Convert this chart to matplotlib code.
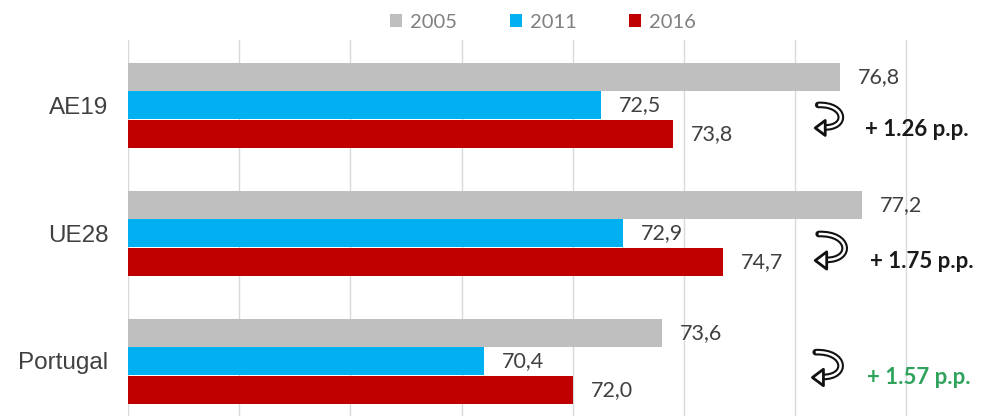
import matplotlib
matplotlib.use("Agg")
import matplotlib.pyplot as plt
from matplotlib.patches import Patch, PathPatch, Polygon
from matplotlib.path import Path
from matplotlib.transforms import Affine2D, ScaledTranslation

categories = ["AE19", "UE28", "Portugal"]
years = ["2005", "2011", "2016"]
v2005 = [76.8, 77.2, 73.6]
v2011 = [72.5, 72.9, 70.4]
v2016 = [73.8, 74.7, 72.0]
changes = ["+ 1.26 p.p.", "+ 1.75 p.p.", "+ 1.57 p.p."]
change_colors = ["#1a1a1a", "#1a1a1a", "#2fa35c"]
colors = ["#bfbfbf", "#00b0f0", "#c00000"]

W, H = 1008, 416
fig = plt.figure(figsize=(W / 100, H / 100), dpi=100)
ax_left, ax_top = 128 / W, 40 / H
ax = fig.add_axes([ax_left, 0, 1 - ax_left, 1 - ax_top])

px_per_unit = 55.6
xmin = 64
ax.set_xlim(xmin, xmin + (W - 128) / px_per_unit)
# group centres at 0,1,2; 128 px per group
ax.set_ylim(2 + 55 / 128, -65 / 128)

bh = 28 / 128
offsets = [-0.219, 0.0, 0.227]
series = [v2005, v2011, v2016]
for s, vals in enumerate(series):
    ys = [i + offsets[s] for i in range(len(categories))]
    widths = [v - xmin for v in vals]
    ax.barh(ys, widths, left=xmin, height=bh, color=colors[s], edgecolor="none", zorder=2)
    for y, v in zip(ys, vals):
        ax.text(v + 18 / px_per_unit, y, f"{v:.1f}".replace(".", ","), va="center", ha="left",
                fontsize=15.5, family="Lato", color="#404040", zorder=3)

ax.set_xticks(range(64, 80, 2))
ax.set_xticklabels([])
ax.tick_params(axis="x", length=0)
ax.grid(axis="x", color="#d9d9d9", lw=1, zorder=0)
ax.set_yticks(range(len(categories)))
ax.set_yticklabels(categories, fontsize=17.5, family="Liberation Sans", color="#404040")
ax.tick_params(axis="y", length=0, pad=14)
for sp in ax.spines.values():
    sp.set_visible(False)

# outlined curved arrow shape (pixel offsets, y up)
shaft = Path([(3, -2), (31, -1), (33, -25), (9, -24.5)],
             [Path.MOVETO, Path.CURVE4, Path.CURVE4, Path.CURVE4])
head = [(0, -25), (10, -17.5), (10, -32.5)]


def draw_arrow(xd, yd, scale):
    tr = Affine2D().scale(scale) + ScaledTranslation(xd, yd, ax.transData)
    ax.add_patch(PathPatch(shaft, transform=tr, fill=False, edgecolor="#111111", lw=4.8,
                           capstyle="round", zorder=5, clip_on=False))
    ax.add_patch(PathPatch(shaft, transform=tr, fill=False, edgecolor="white", lw=1.8,
                           capstyle="butt", zorder=6, clip_on=False))
    ax.add_patch(Polygon(head, closed=True, transform=tr, facecolor="white",
                         edgecolor="#111111", lw=2.0, joinstyle="round", zorder=7, clip_on=False))


arrow_x = [76.36, 76.36, 76.31]
arrow_dy = [-0.016, -0.01, -0.086]
arrow_scale = [1.0, 1.15, 1.1]
text_dy = [0.195, 0.22, 0.13]
text_x = [77.25, 77.35, 77.3]
for i in range(len(categories)):
    draw_arrow(arrow_x[i], i + arrow_dy[i], arrow_scale[i])
    ax.text(text_x[i], i + text_dy[i], changes[i], va="center", ha="left", fontsize=16,
            family="Lato", fontweight="bold", color=change_colors[i], zorder=4)

handles = [Patch(facecolor=c, edgecolor="none") for c in colors]
leg = fig.legend(handles, years, loc="center", bbox_to_anchor=(543 / W, 1 - 22 / H), ncol=3,
                 frameon=False, handlelength=0.6, handleheight=0.6, handletextpad=0.4,
                 columnspacing=2.6, prop=dict(family="Lato", size=14.5))
for t in leg.get_texts():
    t.set_color("#808080")

fig.savefig("out.png", dpi=100)
